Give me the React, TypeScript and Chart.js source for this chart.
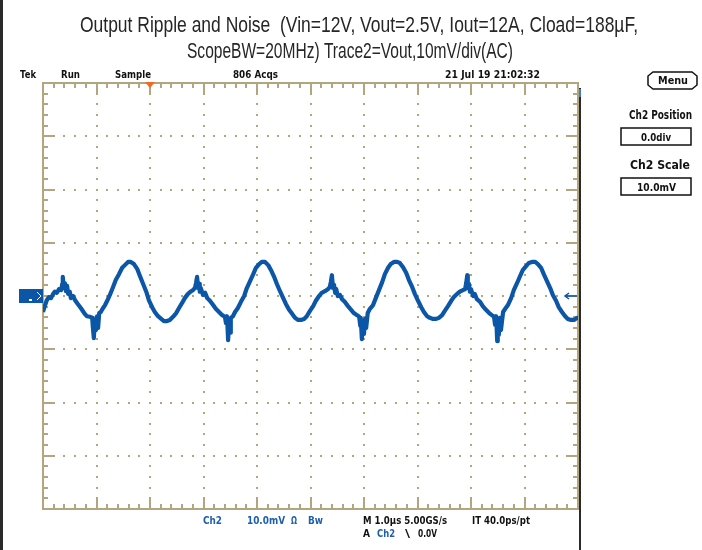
import React, { useEffect, useRef } from "react";
import { Chart, registerables } from "chart.js";

Chart.register(...registerables);

// ---------- Text content ----------
const TITLE_LINES = [
  "Output Ripple and Noise  (Vin=12V, Vout=2.5V, Iout=12A, Cload=188µF,",
  "ScopeBW=20MHz) Trace2=Vout,10mV/div(AC)",
];
const STATUS_TEXT = ["Tek", "Run", "Sample", "806 Acqs", "21 Jul 19 21:02:32"];
const SIDE_TEXT = ["Menu", "Ch2 Position", "0.0div", "Ch2 Scale", "10.0mV"];
const BOTTOM_TEXT = ["Ch2", "10.0mV", "Ω", "Bw", "M 1.0µs 5.00GS/s", "IT 40.0ps/pt", "A", "Ch2", "\\", "0.0V"];

// ---------- Axes (graticule) ----------
const TIME_DIVS_US = [0, 1, 2, 3, 4, 5, 6, 7, 8, 9, 10];
const VOLT_DIVS_MV = [-40, -30, -20, -10, 0, 10, 20, 30, 40];
const TRIGGER_US = 2;
const MINOR_PER_DIV = 5;

// ---------- Trace 2 (Vout, AC, 10 mV/div) ----------
const TIME_US = [
  0.00, 0.04, 0.07, 0.11, 0.15, 0.19, 0.22, 0.26, 0.30, 0.34, 0.36, 0.37, 0.39, 0.41, 0.43, 0.45, 0.47, 0.50, 0.52, 0.56,
  0.60, 0.65, 0.71, 0.77, 0.82, 0.88, 0.92, 0.93, 0.95, 0.97, 0.99, 1.01, 1.03, 1.05, 1.08, 1.12, 1.16, 1.20, 1.25, 1.31,
  1.36, 1.42, 1.48, 1.53, 1.59, 1.64, 1.70, 1.76, 1.81, 1.87, 1.93, 1.98, 2.04, 2.09, 2.15, 2.21, 2.26, 2.32, 2.37, 2.43,
  2.49, 2.54, 2.60, 2.65, 2.71, 2.77, 2.80, 2.84, 2.86, 2.88, 2.90, 2.92, 2.93, 2.95, 2.99, 3.03, 3.07, 3.12, 3.18, 3.23,
  3.29, 3.35, 3.40, 3.42, 3.44, 3.46, 3.48, 3.50, 3.51, 3.55, 3.59, 3.64, 3.70, 3.76, 3.81, 3.87, 3.93, 3.98, 4.04, 4.09,
  4.15, 4.21, 4.26, 4.32, 4.37, 4.43, 4.49, 4.54, 4.60, 4.66, 4.71, 4.77, 4.82, 4.88, 4.93, 4.99, 5.05, 5.10, 5.16, 5.21,
  5.27, 5.33, 5.36, 5.38, 5.40, 5.42, 5.44, 5.46, 5.48, 5.51, 5.55, 5.59, 5.64, 5.70, 5.76, 5.81, 5.87, 5.91, 5.93, 5.94,
  5.96, 5.98, 6.00, 6.02, 6.04, 6.07, 6.11, 6.17, 6.22, 6.28, 6.34, 6.39, 6.45, 6.50, 6.56, 6.62, 6.67, 6.73, 6.79, 6.84,
  6.90, 6.95, 7.01, 7.07, 7.12, 7.18, 7.23, 7.29, 7.35, 7.40, 7.46, 7.51, 7.57, 7.63, 7.68, 7.74, 7.79, 7.85, 7.89, 7.91,
  7.93, 7.94, 7.96, 7.98, 8.00, 8.04, 8.07, 8.11, 8.17, 8.22, 8.28, 8.34, 8.39, 8.43, 8.45, 8.47, 8.49, 8.50, 8.52, 8.54,
  8.56, 8.60, 8.64, 8.69, 8.75, 8.80, 8.86, 8.92, 8.97, 9.03, 9.08, 9.14, 9.20, 9.25, 9.31, 9.36, 9.42, 9.48, 9.53, 9.59,
  9.64, 9.70, 9.76, 9.81, 9.87, 9.93, 9.98, 10.00,
];
const CH2_MV = [
  -3.0, -1.7, -0.8, -0.2, -0.4, 0.4, 0.8, 0.6, 1.3, 1.1, 2.3, 3.6, 1.5, 2.4, 0.9, 1.9, 0.4, 0.8, -0.4, 0.0,
  -0.8, -1.5, -2.3, -3.2, -3.8, -3.9, -4.1, -5.6, -7.9, -4.5, -6.4, -3.8, -6.0, -3.2, -3.0, -2.3, -1.7, -0.9, 0.2, 1.7,
  3.0, 4.1, 5.3, 5.8, 6.4, 6.4, 6.0, 5.1, 3.8, 2.3, 0.8, -0.8, -2.1, -3.0, -3.8, -4.3, -4.7, -4.7, -4.5, -3.9,
  -3.2, -2.3, -1.3, -0.4, 0.4, 0.9, 1.1, 1.5, 2.4, 3.6, 1.5, 2.3, 0.8, 1.5, 0.2, 0.6, -0.4, -0.9, -1.7, -2.4,
  -3.0, -3.6, -3.9, -5.1, -3.8, -8.3, -4.9, -6.9, -4.1, -3.8, -3.0, -2.3, -1.1, 0.0, 1.5, 2.8, 4.1, 5.3, 6.0, 6.4,
  6.4, 5.8, 4.9, 3.6, 2.3, 0.9, -0.4, -1.5, -2.6, -3.4, -4.1, -4.5, -4.5, -4.3, -3.8, -2.8, -1.9, -0.9, 0.0, 0.6,
  0.9, 1.3, 1.7, 2.6, 3.9, 1.5, 2.1, 0.6, 1.3, 0.0, 0.2, -0.6, -1.1, -1.9, -2.6, -3.2, -3.6, -3.9, -5.6, -4.1,
  -8.1, -4.7, -7.1, -4.3, -6.0, -3.2, -2.4, -1.7, -0.4, 1.1, 2.6, 4.1, 5.3, 6.0, 6.4, 6.4, 6.2, 5.4, 4.3, 3.0,
  1.7, 0.4, -0.9, -2.1, -3.0, -3.8, -4.1, -4.3, -4.3, -4.1, -3.6, -2.8, -1.9, -0.9, -0.2, 0.4, 0.8, 1.1, 1.3, 2.4,
  3.9, 1.5, 2.3, 0.8, 1.3, 0.0, 0.4, -0.6, -1.1, -1.9, -2.6, -3.2, -3.6, -3.9, -5.4, -3.8, -8.5, -4.9, -7.3, -4.1,
  -6.4, -3.0, -2.4, -1.7, -0.4, 1.1, 2.4, 3.8, 4.9, 5.6, 6.2, 6.4, 6.4, 6.0, 5.3, 4.1, 2.8, 1.5, 0.2, -0.9,
  -2.1, -3.0, -3.8, -4.3, -4.5, -4.5, -4.1, -4.1,
];

// ---------- Colours ----------
const GRAT = "#b3a67e";
const TRACE = "#0b56a6";
const TXT_BLUE = "#1d5fae";
const TXT_DARK = "#111111";

function fitText(ctx: CanvasRenderingContext2D, text: string, x0: number, x1: number, base: number, font: string, color: string) {
  ctx.save();
  ctx.font = font;
  ctx.fillStyle = color;
  ctx.textBaseline = "alphabetic";
  ctx.textAlign = "left";
  const w = ctx.measureText(text).width || 1;
  ctx.translate(x0, base);
  ctx.scale((x1 - x0) / w, 1);
  ctx.fillText(text, 0, 0);
  ctx.restore();
}

const scopePlugin = {
  id: "scopeScreen",
  beforeDatasetsDraw(chart: any) {
    const ctx: CanvasRenderingContext2D = chart.ctx;
    const xs = chart.scales.x;
    const ys = chart.scales.y;
    const L = xs.getPixelForValue(TIME_DIVS_US[0]);
    const R = xs.getPixelForValue(TIME_DIVS_US[TIME_DIVS_US.length - 1]);
    const T = ys.getPixelForValue(VOLT_DIVS_MV[VOLT_DIVS_MV.length - 1]);
    const B = ys.getPixelForValue(VOLT_DIVS_MV[0]);
    ctx.save();
    // dotted graticule
    ctx.fillStyle = GRAT;
    const nX = TIME_DIVS_US.length - 1;
    const nY = VOLT_DIVS_MV.length - 1;
    for (let i = 1; i < nX; i++) {
      const px = Math.round(xs.getPixelForValue(TIME_DIVS_US[i]));
      for (let k = 1; k < nY * MINOR_PER_DIV; k++) {
        const v = VOLT_DIVS_MV[0] + (k * 10) / MINOR_PER_DIV;
        const py = Math.round(ys.getPixelForValue(v));
        ctx.fillRect(px - 1, py - 1, 2, 2);
      }
    }
    for (let j = 1; j < nY; j++) {
      const py = Math.round(ys.getPixelForValue(VOLT_DIVS_MV[j]));
      for (let k = 1; k < nX * MINOR_PER_DIV; k++) {
        const px = Math.round(xs.getPixelForValue(k / MINOR_PER_DIV));
        ctx.fillRect(px - 1, py - 1, 2, 2);
      }
    }
    // border
    ctx.strokeStyle = GRAT;
    ctx.lineWidth = 2;
    ctx.strokeRect(L, T, R - L, B - T);
    // edge ticks
    ctx.lineWidth = 2;
    ctx.beginPath();
    for (let k = 1; k < nX * MINOR_PER_DIV; k++) {
      const px = Math.round(xs.getPixelForValue(k / MINOR_PER_DIV));
      const len = k % MINOR_PER_DIV === 0 ? 10 : 5;
      ctx.moveTo(px, T);
      ctx.lineTo(px, T + len);
      ctx.moveTo(px, B);
      ctx.lineTo(px, B - len);
    }
    for (let k = 1; k < nY * MINOR_PER_DIV; k++) {
      const py = Math.round(ys.getPixelForValue(VOLT_DIVS_MV[0] + (k * 10) / MINOR_PER_DIV));
      const len = k % MINOR_PER_DIV === 0 ? 10 : 5;
      ctx.moveTo(L, py);
      ctx.lineTo(L + len, py);
      ctx.moveTo(R, py);
      ctx.lineTo(R - len, py);
    }
    ctx.stroke();
    ctx.restore();
  },
  afterDraw(chart: any) {
    const ctx: CanvasRenderingContext2D = chart.ctx;
    const xs = chart.scales.x;
    const ys = chart.scales.y;
    const L = xs.getPixelForValue(TIME_DIVS_US[0]);
    const R = xs.getPixelForValue(TIME_DIVS_US[TIME_DIVS_US.length - 1]);
    const T = ys.getPixelForValue(VOLT_DIVS_MV[VOLT_DIVS_MV.length - 1]);
    const zeroY = ys.getPixelForValue(0);
    ctx.save();
    // frame edges
    ctx.fillStyle = "#2a2a2a";
    ctx.fillRect(0, 0, 3, chart.height);
    ctx.fillRect(R + 1, T + 5, 2, chart.height - T - 5);
    ctx.fillStyle = "#3d7fc0";
    ctx.fillRect(R + 1, T + 6, 2, 8);

    // title (condensed face)
    const titleFont = "22px 'Liberation Sans Narrow', 'Liberation Sans', Arial, sans-serif";
    fitText(ctx, TITLE_LINES[0], 80, 638, 32, titleFont, "#262626");
    fitText(ctx, TITLE_LINES[1], 187, 513, 58, titleFont, "#262626");

    // status line
    const sFont = "bold 11px 'DejaVu Sans', sans-serif";
    fitText(ctx, STATUS_TEXT[0], 20, 36, 78, sFont, TXT_DARK);
    fitText(ctx, STATUS_TEXT[1], 61, 80, 78, sFont, TXT_DARK);
    fitText(ctx, STATUS_TEXT[2], 115, 151, 78, sFont, TXT_DARK);
    fitText(ctx, STATUS_TEXT[3], 233, 278, 78, sFont, TXT_DARK);
    fitText(ctx, STATUS_TEXT[4], 445, 540, 78, sFont, TXT_DARK);

    // trigger position marker
    const tx = xs.getPixelForValue(TRIGGER_US);
    ctx.fillStyle = "#f26a21";
    ctx.beginPath();
    ctx.moveTo(tx - 5, T - 1);
    ctx.lineTo(tx + 5, T - 1);
    ctx.lineTo(tx, T + 5);
    ctx.closePath();
    ctx.fill();

    // channel ground marker (left)
    ctx.fillStyle = TRACE;
    ctx.fillRect(19, zeroY - 7, L - 19, 14);
    ctx.fillStyle = "#ffffff";
    ctx.fillRect(29, zeroY + 3, 3, 2);
    ctx.strokeStyle = "#ffffff";
    ctx.lineWidth = 1;
    ctx.beginPath();
    ctx.moveTo(37, zeroY - 4);
    ctx.lineTo(41, zeroY);
    ctx.lineTo(37, zeroY + 4);
    ctx.stroke();

    // trigger level arrow (right)
    ctx.strokeStyle = TRACE;
    ctx.lineWidth = 1.5;
    ctx.beginPath();
    ctx.moveTo(R - 1, zeroY);
    ctx.lineTo(R - 13, zeroY);
    ctx.moveTo(R - 9, zeroY - 3);
    ctx.lineTo(R - 13, zeroY);
    ctx.lineTo(R - 9, zeroY + 3);
    ctx.stroke();

    // side menu
    ctx.strokeStyle = "#111";
    ctx.lineWidth = 1.5;
    ctx.beginPath();
    ctx.moveTo(653, 72);
    ctx.lineTo(692, 72);
    ctx.lineTo(697, 76);
    ctx.lineTo(697, 85);
    ctx.lineTo(692, 89);
    ctx.lineTo(653, 89);
    ctx.lineTo(648, 85);
    ctx.lineTo(648, 76);
    ctx.closePath();
    ctx.stroke();
    const mFont = "bold 10px 'DejaVu Sans', sans-serif";
    fitText(ctx, SIDE_TEXT[0], 658, 688, 84, mFont, TXT_DARK);
    const hFont = "bold 12px 'DejaVu Sans', sans-serif";
    fitText(ctx, SIDE_TEXT[1], 629, 692, 119, hFont, TXT_DARK);
    ctx.strokeRect(621, 128, 70, 17);
    fitText(ctx, SIDE_TEXT[2], 641, 671, 141, mFont, TXT_DARK);
    fitText(ctx, SIDE_TEXT[3], 630, 690, 169, hFont, TXT_DARK);
    ctx.strokeRect(621, 178, 70, 17);
    fitText(ctx, SIDE_TEXT[4], 637, 676, 191, mFont, TXT_DARK);

    // bottom readout
    const bFont = "bold 10px 'DejaVu Sans', sans-serif";
    fitText(ctx, BOTTOM_TEXT[0], 203, 222, 524, bFont, TXT_BLUE);
    fitText(ctx, BOTTOM_TEXT[1], 247, 285, 524, bFont, TXT_BLUE);
    fitText(ctx, BOTTOM_TEXT[2], 291, 297, 524, bFont, TXT_BLUE);
    fitText(ctx, BOTTOM_TEXT[3], 308, 323, 524, bFont, TXT_BLUE);
    fitText(ctx, BOTTOM_TEXT[4], 363, 447, 524, bFont, TXT_DARK);
    fitText(ctx, BOTTOM_TEXT[5], 472, 530, 524, bFont, TXT_DARK);
    fitText(ctx, BOTTOM_TEXT[6], 363, 370, 537, bFont, TXT_DARK);
    fitText(ctx, BOTTOM_TEXT[7], 377, 395, 537, bFont, TXT_BLUE);
    fitText(ctx, BOTTOM_TEXT[8], 405, 410, 537, bFont, TXT_DARK);
    fitText(ctx, BOTTOM_TEXT[9], 418, 437, 537, bFont, TXT_DARK);
    ctx.restore();
  },
};

export default function App() {
  const canvasRef = useRef<HTMLCanvasElement | null>(null);

  useEffect(() => {
    if (!canvasRef.current) return;
    const points = TIME_US.map((t, i) => ({ x: t, y: CH2_MV[i] }));
    const chart = new Chart(canvasRef.current, {
      type: "line",
      data: {
        datasets: [
          {
            label: "Ch2 Vout",
            data: points,
            borderColor: TRACE,
            borderWidth: 4.2,
            pointRadius: 0,
            tension: 0,
            fill: false,
            borderJoinStyle: "round",
          },
        ],
      },
      options: {
        animation: false,
        responsive: false,
        maintainAspectRatio: false,
        devicePixelRatio: 1,
        layout: { padding: { left: 43, top: 83, right: 124, bottom: 41 } },
        scales: {
          x: { type: "linear", min: TIME_DIVS_US[0], max: TIME_DIVS_US[TIME_DIVS_US.length - 1], display: false },
          y: { type: "linear", min: VOLT_DIVS_MV[0], max: VOLT_DIVS_MV[VOLT_DIVS_MV.length - 1], display: false },
        },
        plugins: {
          legend: { display: false },
          tooltip: { enabled: false },
          title: { display: false },
        },
      },
      plugins: [scopePlugin],
    } as any);
    return () => chart.destroy();
  }, []);

  return (
    <div style={{ position: "fixed", left: 0, top: 0, width: 702, height: 550, background: "#ffffff" }}>
      <canvas ref={canvasRef} width={702} height={550} style={{ display: "block", width: 702, height: 550 }} />
    </div>
  );
}
